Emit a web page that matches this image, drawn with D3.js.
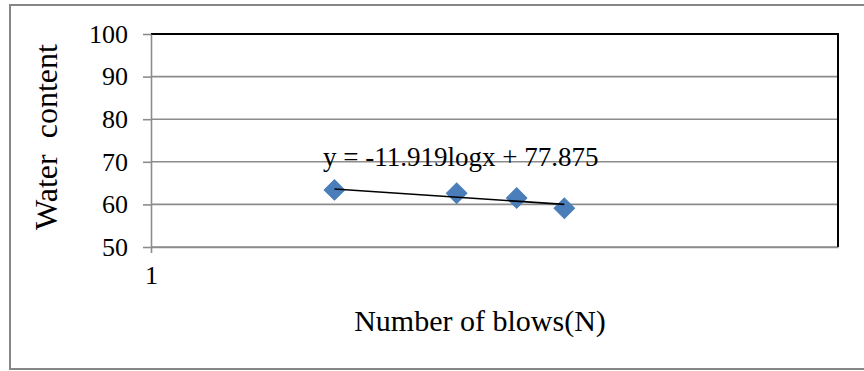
<!DOCTYPE html>
<html>
<head>
<meta charset="utf-8">
<script src="https://cdn.jsdelivr.net/npm/d3@7"></script>
<style>
  html, body { margin: 0; padding: 0; background: #fff; }
  svg { display: block; }
  text { font-family: "Liberation Serif", "Times New Roman", serif; fill: #000; }
</style>
</head>
<body>
<div id="chart"></div>
<script>
// number of blows (log axis) and water content
var blows = [3.42, 7.76, 11.6, 15.97];
var water = [63.4, 62.6, 61.5, 59.1];
// trendline end points
var trendX = [3.42, 15.97];
var trendY = [63.6, 60.0];
var yTicks = [50, 60, 70, 80, 90, 100];
var xTicks = [1];
var equation = "y = -11.919logx + 77.875";

var width = 864, height = 371;
var plotLeft = 151, plotRight = 838, plotTop = 34, plotBottom = 247;
var serif = "Liberation Serif, Times New Roman, serif";

var svg = d3.select("#chart").append("svg")
    .attr("width", width)
    .attr("height", height);

// outer chart frame
svg.append("rect")
    .attr("x", 10).attr("y", 5)
    .attr("width", 900).attr("height", 364)
    .attr("fill", "#fff")
    .attr("stroke", "#868686")
    .attr("stroke-width", 2);

var x = d3.scaleLog().domain([1, 100]).range([plotLeft, plotRight]);
var y = d3.scaleLinear().domain([50, 100]).range([plotBottom, plotTop]);

// gridlines
svg.append("g").selectAll("line")
    .data(yTicks)
    .enter().append("line")
    .attr("x1", plotLeft).attr("x2", plotRight)
    .attr("y1", function (d) { return y(d); })
    .attr("y2", function (d) { return y(d); })
    .attr("stroke", "#8c8c8c")
    .attr("stroke-width", 1.6);

// top and right border of plot area
svg.append("path")
    .attr("d", "M" + plotLeft + "," + y(100) + "H" + plotRight + "V" + plotBottom)
    .attr("fill", "none")
    .attr("stroke", "#000")
    .attr("stroke-width", 2);

// y axis
var yAxis = svg.append("g")
    .attr("transform", "translate(" + plotLeft + ",0)")
    .call(d3.axisLeft(y).tickValues(yTicks).tickSizeInner(8).tickSizeOuter(0).tickPadding(15))
    .attr("font-family", serif)
    .attr("font-size", 26);
yAxis.select(".domain").attr("stroke", "#8c8c8c").attr("stroke-width", 1.6);
yAxis.selectAll(".tick line").attr("stroke", "#8c8c8c").attr("stroke-width", 1.6);
yAxis.selectAll(".tick text").attr("fill", "#000");

// x axis
var xAxis = svg.append("g")
    .attr("transform", "translate(0," + plotBottom + ")")
    .call(d3.axisBottom(x).tickValues(xTicks).tickFormat(d3.format("d"))
        .tickSizeInner(6).tickSizeOuter(0).tickPadding(13))
    .attr("font-family", serif)
    .attr("font-size", 26);
xAxis.select(".domain").attr("stroke", "#8c8c8c").attr("stroke-width", 1.6);
xAxis.selectAll(".tick line").attr("stroke", "#8c8c8c").attr("stroke-width", 1.6);
xAxis.selectAll(".tick text").attr("fill", "#000");

// markers
svg.append("g").selectAll("path")
    .data(blows)
    .enter().append("path")
    .attr("d", d3.symbol().type(d3.symbolSquare).size(210))
    .attr("transform", function (d, i) {
        return "translate(" + x(d) + "," + y(water[i]) + ") rotate(45)";
    })
    .attr("fill", "#4a7ebb")
    .attr("stroke", "#4a7ebb")
    .attr("stroke-width", 1);

// trendline
var line = d3.line()
    .x(function (d) { return x(d[0]); })
    .y(function (d) { return y(d[1]); });
svg.append("path")
    .datum(trendX.map(function (d, i) { return [d, trendY[i]]; }))
    .attr("d", line)
    .attr("fill", "none")
    .attr("stroke", "#000")
    .attr("stroke-width", 1.6);

// trendline equation
svg.append("text")
    .attr("x", 323).attr("y", 166)
    .style("font-size", "27px")
    .text(equation);

// axis titles
svg.append("text")
    .attr("x", 480).attr("y", 331)
    .attr("text-anchor", "middle")
    .style("font-size", "30px")
    .text("Number of blows(N)");

svg.append("text")
    .attr("transform", "translate(57,137) rotate(-90)")
    .attr("text-anchor", "middle")
    .style("font-size", "32px")
    .style("white-space", "pre")
    .text("Water  content");
</script>
</body>
</html>
